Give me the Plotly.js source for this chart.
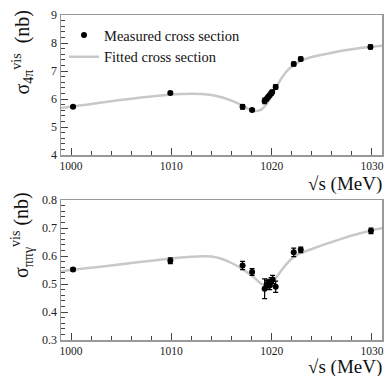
<!DOCTYPE html>
<html><head><meta charset="utf-8">
<script src="https://cdn.plot.ly/plotly-3.0.1.min.js"></script>
<style>html,body{margin:0;padding:0;background:#fff}#c{width:386px;height:376px}</style>
</head><body><div id="c"></div>
<script>
// Top panel: 4pi
const e4 = [1000.2, 1009.9, 1017.1, 1018.05, 1019.3, 1019.5, 1019.65, 1019.8, 1019.95, 1020.05, 1020.4, 1022.2, 1022.9, 1029.85];
const s4 = [5.72, 6.21, 5.72, 5.61, 5.93, 6.0, 6.07, 6.13, 6.2, 6.25, 6.43, 7.25, 7.43, 7.86];
const s4err = [0.04, 0.04, 0.08, 0.04, 0.1, 0.06, 0.06, 0.06, 0.06, 0.06, 0.08, 0.07, 0.07, 0.07];
const fitE4 = [999, 1000, 1002, 1004, 1006, 1008, 1010, 1011, 1012, 1013, 1014, 1015, 1016, 1017, 1017.5, 1018, 1018.5, 1019, 1019.5, 1020, 1020.5, 1021, 1021.5, 1022, 1022.5, 1023, 1024, 1025, 1026, 1027, 1028, 1029, 1030, 1031];
const fitS4 = [5.68, 5.72, 5.82, 5.92, 6.01, 6.09, 6.16, 6.18, 6.19, 6.18, 6.14, 6.06, 5.94, 5.78, 5.68, 5.6, 5.57, 5.63, 5.83, 6.13, 6.45, 6.75, 6.99, 7.16, 7.28, 7.38, 7.5, 7.58, 7.65, 7.72, 7.78, 7.83, 7.87, 7.9];
// Bottom panel: pi pi gamma
const eg = [1000.2, 1009.9, 1017.1, 1018.05, 1019.3, 1019.5, 1019.65, 1019.8, 1019.95, 1020.1, 1020.4, 1022.2, 1022.9, 1029.9];
const sg = [0.552, 0.583, 0.566, 0.543, 0.483, 0.497, 0.502, 0.495, 0.508, 0.516, 0.49, 0.613, 0.622, 0.69];
const sgerr = [0.005, 0.01, 0.015, 0.012, 0.035, 0.015, 0.015, 0.015, 0.015, 0.015, 0.02, 0.015, 0.01, 0.01];
const fitEg = [999, 1000, 1002, 1004, 1006, 1008, 1010, 1012, 1013, 1014, 1015, 1016, 1017, 1018, 1018.5, 1019, 1019.5, 1020, 1020.5, 1021, 1021.5, 1022, 1022.5, 1023, 1024, 1025, 1026, 1027, 1028, 1029, 1030, 1031];
const fitSg = [0.545, 0.55, 0.558, 0.566, 0.575, 0.583, 0.591, 0.597, 0.599, 0.598, 0.59, 0.575, 0.555, 0.53, 0.515, 0.5, 0.496, 0.505, 0.525, 0.55, 0.572, 0.59, 0.603, 0.612, 0.625, 0.638, 0.65, 0.662, 0.673, 0.683, 0.692, 0.699];

const W = 386, H = 376;
const fitColor = '#c8c8c8';
const serif = 'Liberation Serif';

const traces = [
  {x: fitE4, y: fitS4, mode: 'lines', line: {color: fitColor, width: 2.5, shape: 'spline'}, name: 'Fitted cross section', xaxis: 'x', yaxis: 'y', legendrank: 2},
  {x: e4, y: s4, mode: 'markers', marker: {color: '#000', size: 6}, error_y: {type: 'data', array: s4err, color: '#000', thickness: 1.2, width: 2.5}, name: 'Measured cross section', xaxis: 'x', yaxis: 'y', legendrank: 1},
  {x: fitEg, y: fitSg, mode: 'lines', line: {color: fitColor, width: 2.5, shape: 'spline'}, showlegend: false, xaxis: 'x2', yaxis: 'y2'},
  {x: eg, y: sg, mode: 'markers', marker: {color: '#000', size: 6}, error_y: {type: 'data', array: sgerr, color: '#000', thickness: 1.2, width: 2.5}, showlegend: false, xaxis: 'x2', yaxis: 'y2'}
];

function xax(anchor) {
  return {
    domain: [61 / W, 382 / W], anchor: anchor, range: [999, 1031],
    tickmode: 'array', tickvals: [1000, 1010, 1020, 1030],
    ticks: 'inside', ticklen: 7, tickcolor: '#444', tickwidth: 1,
    minor: {dtick: 2, tick0: 1000, ticks: 'inside', ticklen: 4, tickcolor: '#444'},
    showline: true, linecolor: '#999', linewidth: 1.5, mirror: true,
    showgrid: false, zeroline: false,
    tickfont: {family: serif, size: 11.5, color: '#222'}
  };
}
function yax(anchor, top, bottom, range, dtick, mdtick, fmt) {
  return {
    domain: [(H - bottom) / H, (H - top) / H], anchor: anchor, range: range,
    dtick: dtick, tick0: range[0], tickformat: fmt,
    ticks: 'inside', ticklen: 7, tickcolor: '#444', tickwidth: 1,
    minor: {dtick: mdtick, ticks: 'inside', ticklen: 4, tickcolor: '#444'},
    showline: true, linecolor: '#999', linewidth: 1.5, mirror: true,
    showgrid: false, zeroline: false,
    tickfont: {family: serif, size: 12, color: '#222'}
  };
}

const layout = {
  width: W, height: H,
  margin: {l: 0, r: 0, t: 0, b: 0},
  paper_bgcolor: '#fff', plot_bgcolor: '#fff',
  font: {family: serif},
  showlegend: true,
  xaxis: xax('y'),
  yaxis: yax('x', 15, 155, [4, 9], 1, 0.2, 'd'),
  xaxis2: xax('y2'),
  yaxis2: yax('x2', 200, 340, [0.3, 0.8], 0.1, 0.02, '.1f'),
  legend: {x: 64 / W, y: 1 - 19 / H, xanchor: 'left', yanchor: 'top', bgcolor: 'rgba(0,0,0,0)',
           font: {family: serif, size: 14.5, color: '#111'}, itemwidth: 30, tracegroupgap: 0, traceorder: 'normal'},
  annotations: [
    {xref: 'paper', yref: 'paper', x: 383 / W, y: 1 - 184 / H, xanchor: 'right', yanchor: 'middle', showarrow: false, borderpad: 0,
     text: '\u221As (MeV)', font: {family: serif, size: 19, color: '#111'}},
    {xref: 'paper', yref: 'paper', x: 383 / W, y: 1 - 367 / H, xanchor: 'right', yanchor: 'middle', showarrow: false, borderpad: 0,
     text: '\u221As (MeV)', font: {family: serif, size: 19, color: '#111'}},
    {xref: 'paper', yref: 'paper', x: 22 / W, y: 1 - 8 / H, xanchor: 'center', yanchor: 'top', textangle: -90, showarrow: false,
     text: '\u03C3<sub>4\u03C0</sub><sup>vis</sup>  (nb)', font: {family: serif, size: 20, color: '#111'}},
    {xref: 'paper', yref: 'paper', x: 22 / W, y: 1 - 190 / H, xanchor: 'center', yanchor: 'top', textangle: -90, showarrow: false,
     text: '\u03C3<sub>\u03C0\u03C0\u03B3</sub><sup>vis</sup> (nb)', font: {family: serif, size: 20, color: '#111'}}
  ]
};

Plotly.newPlot('c', traces, layout, {displayModeBar: false, staticPlot: true});
</script>
</body></html>
